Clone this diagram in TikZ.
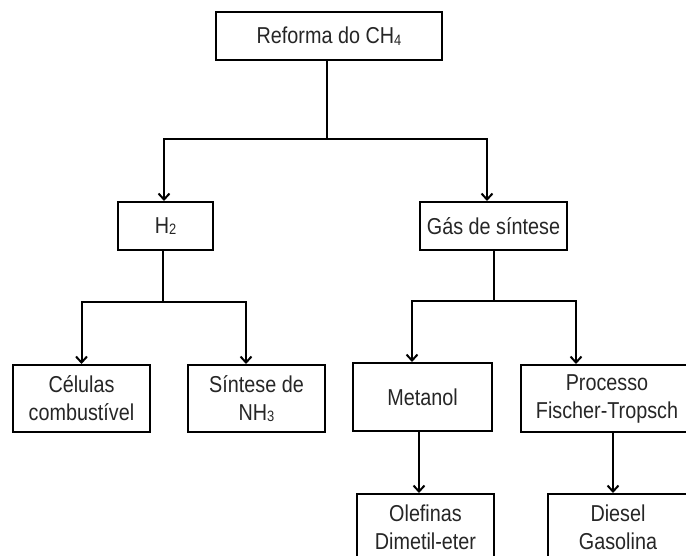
\documentclass[tikz,border=0pt]{standalone}
\usepackage{fontspec}
\setmainfont{Liberation Sans}[FakeStretch=0.86]
\usetikzlibrary{arrows.meta}
\newcommand\sbs[1]{\raisebox{-1.5pt}{\fontsize{15}{15}\selectfont #1}}
\begin{document}
\begin{tikzpicture}[x=1pt,y=-1pt,
  box/.style={draw=black, line width=2pt, align=center, inner sep=0pt,
    font=\fontsize{23}{28}\selectfont, text=black!85},
  conn/.style={draw=black, line width=2pt},
  arr/.style={conn, -{Straight Barb[length=6pt,width=11pt,line width=2pt]}}]
\clip (0,0) rectangle (686,556);
\useasboundingbox (0,0) rectangle (686,556);
\fill[white] (0,0) rectangle (686,556);
% nodes
\node[box, minimum width=226pt, minimum height=48pt] (top) at (329,36) {Reforma do CH\sbs{4}};
\node[box, minimum width=95pt, minimum height=48pt] (h2) at (165.5,226) {H\sbs{2}};
\node[box, minimum width=147pt, minimum height=48pt] (gas) at (493.5,226) {Gás de síntese};
\node[box, minimum width=137pt, minimum height=67pt] (cel) at (81.5,398.5) {Células\\combustível};
\node[box, minimum width=137pt, minimum height=67pt] (nh3) at (256.5,398.5) {Síntese de\\NH\sbs{3}};
\node[box, minimum width=139pt, minimum height=68pt] (met) at (422.5,397) {Metanol};
\node[box, minimum width=172pt, minimum height=67pt] (ft) at (607,398.5) {Processo\\Fischer-Tropsch};
\node[box, minimum width=137pt, minimum height=67pt] (ole) at (425.5,527.5) {Olefinas\\Dimetil-eter};
\node[box, minimum width=140pt, minimum height=67pt] (die) at (618,527.5) {Diesel\\Gasolina};
% junctions
\coordinate (j1) at (327,139);
\coordinate (j2) at (163,302);
\coordinate (j3) at (494,301);
% connectors
\draw[conn] (top.south -| j1) -- (j1);
\draw[arr] (j1) -| ([xshift=-1.5pt]h2.north);
\draw[arr] (j1) -| ([xshift=-6.5pt]gas.north);
\draw[conn] (h2.south -| j2) -- (j2);
\draw[arr] (j2) -| (cel.north);
\draw[arr] (j2) -| ([xshift=-10.5pt]nh3.north);
\draw[conn] (gas.south -| j3) -- (j3);
\draw[arr] (j3) -| ([xshift=-10.5pt]met.north);
\draw[arr] (j3) -| ([xshift=-31pt]ft.north);
\draw[arr] ([xshift=-3.5pt]met.south) -- ([xshift=-6.5pt]ole.north);
\draw[arr] ([xshift=6pt]ft.south) -- ([xshift=-5pt]die.north);
\end{tikzpicture}
\end{document}
